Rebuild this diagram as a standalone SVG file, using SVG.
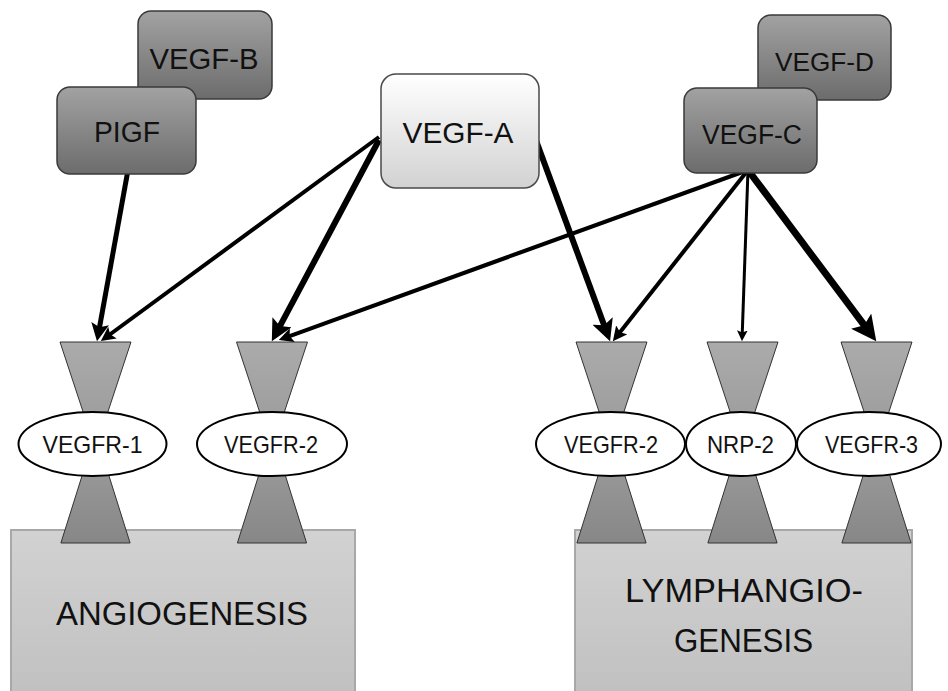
<svg xmlns="http://www.w3.org/2000/svg" width="948" height="691" viewBox="0 0 948 691">
<defs>
<linearGradient id="gDark" x1="0" y1="0" x2="0" y2="1"><stop offset="0" stop-color="#a2a2a2"/><stop offset="1" stop-color="#6c6c6c"/></linearGradient>
<linearGradient id="gLight" x1="0" y1="0" x2="0" y2="1"><stop offset="0" stop-color="#ffffff"/><stop offset="1" stop-color="#d2d2d2"/></linearGradient>
<linearGradient id="gBase" x1="0" y1="0" x2="0" y2="1"><stop offset="0" stop-color="#d2d2d2"/><stop offset="1" stop-color="#c0c0c0"/></linearGradient>
<linearGradient id="gTrapTop" x1="0" y1="0" x2="0" y2="1"><stop offset="0" stop-color="#ababab"/><stop offset="1" stop-color="#9c9c9c"/></linearGradient>
<linearGradient id="gTrapBot" x1="0" y1="0" x2="0" y2="1"><stop offset="0" stop-color="#9a9a9a"/><stop offset="1" stop-color="#878787"/></linearGradient>
<marker id="arr" viewBox="0 0 10 10" refX="4" refY="5" markerWidth="3.6" markerHeight="3.6" markerUnits="strokeWidth" orient="auto">
<path d="M0,0 L10,5 L0,10 L2,5 Z" fill="#000"/>
</marker>
<g id="rec">
<path class="trapT" d="M-35.5,342 L35.5,342 L6.4,430 L-6.4,430 Z"/>
<path class="trapB" d="M-8.5,460 L8.5,460 L34.6,543 L-34.6,543 Z"/>
</g>
</defs>
<style>
.dark{fill:url(#gDark);stroke:#3a3a3a;stroke-width:1.5}
.light{fill:url(#gLight);stroke:#4a4a4a;stroke-width:1.5}
.base{fill:url(#gBase);stroke:#a8a8a8;stroke-width:2}
.trapT{fill:url(#gTrapTop);stroke:#333;stroke-width:1}
.trapB{fill:url(#gTrapBot);stroke:#333;stroke-width:1}
.ell{fill:#fff;stroke:#000;stroke-width:2}
text{font-family:"Liberation Sans",Arial,sans-serif;fill:#111;text-anchor:middle}
.lbl{font-size:24px}
.big{font-size:34px}
.arrow{stroke:#000;fill:none;marker-end:url(#arr);stroke-linecap:butt}
</style>
<rect width="948" height="691" fill="#fff"/>

<g id="angiogenesis">
<rect class="base" x="11" y="530" width="344" height="170"/>
<text class="big" x="182" y="625" font-size="33" textLength="252" lengthAdjust="spacingAndGlyphs">ANGIOGENESIS</text>
</g>
<g id="lymphangiogenesis">
<rect class="base" x="575" y="530" width="337" height="170"/>
<text class="big" x="744" y="602" font-size="36" textLength="238" lengthAdjust="spacingAndGlyphs">LYMPHANGIO-</text>
<text class="big" x="743.5" y="652" font-size="36" textLength="139" lengthAdjust="spacingAndGlyphs">GENESIS</text>
</g>

<g id="vegfr1">
<use href="#rec" x="95.5"/>
<ellipse class="ell" cx="92.5" cy="444" rx="74" ry="32"/>
<text class="lbl" x="92.5" y="452.5" textLength="100" lengthAdjust="spacingAndGlyphs">VEGFR-1</text>
</g>
<g id="vegfr2-left">
<use href="#rec" x="272"/>
<ellipse class="ell" cx="272" cy="444" rx="75" ry="32"/>
<text class="lbl" x="271" y="452.5" textLength="94" lengthAdjust="spacingAndGlyphs">VEGFR-2</text>
</g>
<g id="vegfr2-right">
<use href="#rec" x="611.5"/>
<ellipse class="ell" cx="610.5" cy="444" rx="74.5" ry="32"/>
<text class="lbl" x="611" y="452.5" textLength="94" lengthAdjust="spacingAndGlyphs">VEGFR-2</text>
</g>
<g id="nrp2">
<use href="#rec" x="742.5"/>
<ellipse class="ell" cx="741" cy="444" rx="55" ry="32"/>
<text class="lbl" x="740.5" y="452.5" textLength="67" lengthAdjust="spacingAndGlyphs">NRP-2</text>
</g>
<g id="vegfr3">
<use href="#rec" x="876.5"/>
<ellipse class="ell" cx="869" cy="444" rx="72" ry="32"/>
<text class="lbl" x="871.5" y="452.5" textLength="93" lengthAdjust="spacingAndGlyphs">VEGFR-3</text>
</g>

<g id="connectors">
<line class="arrow" x1="128" y1="170" x2="98.9" y2="330.7" stroke-width="5"/>
<line class="arrow" x1="379" y1="137" x2="107.8" y2="336" stroke-width="4"/>
<line class="arrow" x1="379" y1="140" x2="277.9" y2="329.9" stroke-width="6"/>
<line class="arrow" x1="534" y1="135" x2="605.6" y2="329.2" stroke-width="6"/>
<line class="arrow" x1="748" y1="170" x2="286.9" y2="337.1" stroke-width="4"/>
<line class="arrow" x1="748" y1="170" x2="618.2" y2="334.4" stroke-width="4"/>
<line class="arrow" x1="748" y1="170" x2="742.2" y2="334.7" stroke-width="3"/>
<line class="arrow" x1="748" y1="170" x2="867.2" y2="329.2" stroke-width="7"/>
</g>

<g id="vegf-b">
<rect class="dark" x="138" y="11" width="134" height="88" rx="13"/>
<text x="204" y="68.5" font-size="30" textLength="109" lengthAdjust="spacingAndGlyphs">VEGF-B</text>
</g>
<g id="pigf">
<rect class="dark" x="57" y="87" width="139" height="87" rx="13"/>
<text x="127" y="142" font-size="30" textLength="66" lengthAdjust="spacingAndGlyphs">PIGF</text>
</g>
<g id="vegf-a">
<rect class="light" x="381" y="74" width="158" height="114" rx="15"/>
<text x="458" y="142.5" font-size="30" textLength="111" lengthAdjust="spacingAndGlyphs">VEGF-A</text>
</g>
<g id="vegf-d">
<rect class="dark" x="758" y="15" width="133" height="85" rx="13"/>
<text x="824.5" y="70.5" font-size="26" textLength="99" lengthAdjust="spacingAndGlyphs">VEGF-D</text>
</g>
<g id="vegf-c">
<rect class="dark" x="684" y="88" width="133" height="85" rx="13"/>
<text x="752" y="143.5" font-size="27" textLength="100" lengthAdjust="spacingAndGlyphs">VEGF-C</text>
</g>
</svg>
